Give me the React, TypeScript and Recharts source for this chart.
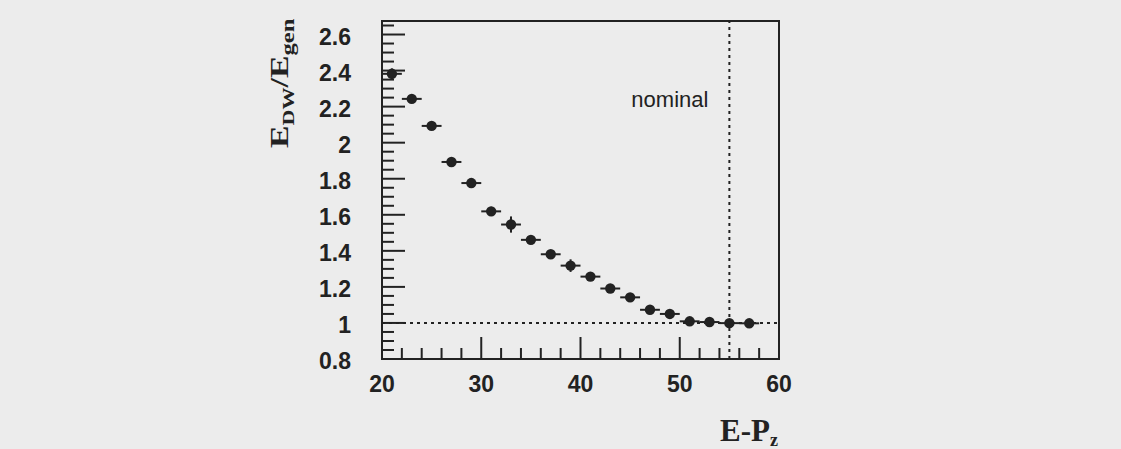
import React from 'react';
import {
  ScatterChart, Scatter, XAxis, YAxis, ErrorBar, ReferenceLine, ReferenceArea,
} from 'recharts';

const INK = '#222222';
const BG = '#ececec';

// E-Pz bin centres and measured E_DW/E_gen
const epz = [21, 23, 25, 27, 29, 31, 33, 35, 37, 39, 41, 43, 45, 47, 49, 51, 53, 55, 57];
const ratio = [2.382, 2.243, 2.093, 1.893, 1.776, 1.619, 1.546, 1.461, 1.381, 1.318, 1.257, 1.191, 1.142, 1.073, 1.05, 1.009, 1.005, 0.999, 0.998];
const ratioErr = [0.03, 0.02, 0.02, 0.02, 0.02, 0.025, 0.045, 0.02, 0.02, 0.035, 0.02, 0.02, 0.02, 0.02, 0.02, 0.01, 0.01, 0.01, 0.01];
const binHalf = 1;

const xTicks = [20, 22, 24, 26, 28, 30, 32, 34, 36, 38, 40, 42, 44, 46, 48, 50, 52, 54, 56, 58, 60];
const xLabels = [20, 30, 40, 50, 60];
const yTicks = [
  0.8, 0.85, 0.9, 0.95, 1.0, 1.05, 1.1, 1.15, 1.2, 1.25, 1.3, 1.35, 1.4, 1.45, 1.5, 1.55, 1.6, 1.65,
  1.7, 1.75, 1.8, 1.85, 1.9, 1.95, 2.0, 2.05, 2.1, 2.15, 2.2, 2.25, 2.3, 2.35, 2.4, 2.45, 2.5, 2.55,
  2.6, 2.65,
];
const yLabels = [0.8, 1, 1.2, 1.4, 1.6, 1.8, 2, 2.2, 2.4, 2.6];

const nominalCut = 55;
const unity = 1;

const data = epz.map((x, i) => ({ x, y: ratio[i], ex: binHalf, ey: ratioErr[i] }));

const tickFont = { fontFamily: '"Liberation Sans", Arial, sans-serif', fontSize: 23, fontWeight: 700, fill: INK };

function YTick({ x, y, payload }: any) {
  const v = payload.value;
  const major = yLabels.some(l => Math.abs(l - v) < 1e-6);
  return (
    <g>
      <line x1={x} x2={x + (major ? 23 : 12)} y1={y} y2={y} stroke={INK} strokeWidth={2} />
      {major && (
        <text x={x - 31} y={y + 2} textAnchor="end" dominantBaseline="central" style={tickFont}>
          {String(v)}
        </text>
      )}
    </g>
  );
}

function XTick({ x, y, payload }: any) {
  const v = payload.value;
  const major = xLabels.includes(v);
  const inner = v > 20 && v < 60;
  return (
    <g>
      {inner && <line x1={x} x2={x} y1={y} y2={y - (major ? 22 : 11)} stroke={INK} strokeWidth={2} />}
      {major && (
        <text x={x} y={y + 25} textAnchor="middle" dominantBaseline="central" style={tickFont}>
          {String(v)}
        </text>
      )}
    </g>
  );
}

function YTitle({ viewBox }: any) {
  const x = viewBox.x + 6;
  const y = viewBox.y + 127;
  return (
    <text
      transform={`translate(${x},${y}) rotate(-90) scale(1.3,1)`}
      style={{ fontFamily: '"Liberation Serif", "Times New Roman", serif', fontWeight: 700, fill: INK }}
    >
      <tspan fontSize={26}>E</tspan>
      <tspan fontSize={17} dy={6}>DW</tspan>
      <tspan fontSize={26} dy={-6}>/E</tspan>
      <tspan fontSize={19} dy={6}>gen</tspan>
    </text>
  );
}

function XTitle({ viewBox }: any) {
  const x = viewBox.x + viewBox.width - 59;
  const y = viewBox.y + 82;
  return (
    <text x={x} y={y} style={{ fontFamily: '"Liberation Serif", "Times New Roman", serif', fontWeight: 700, fill: INK }}>
      <tspan fontSize={31}>E-P</tspan>
      <tspan fontSize={18} dy={5}>z</tspan>
    </text>
  );
}

function NominalLabel({ viewBox }: any) {
  return (
    <text
      x={viewBox.x - 21}
      y={viewBox.y + 86}
      textAnchor="end"
      style={{ fontFamily: '"Liberation Sans", Arial, sans-serif', fontSize: 22, fill: INK }}
    >
      nominal
    </text>
  );
}

export default function App() {
  return (
    <div style={{ position: 'absolute', left: 0, top: 0, width: 1121, height: 449, background: BG }}>
      <ScatterChart width={1121} height={449} margin={{ top: 21, right: 342, bottom: 30, left: 282 }}>
        <XAxis
          type="number"
          dataKey="x"
          domain={[20, 60]}
          ticks={xTicks}
          interval={0}
          allowDataOverflow
          axisLine={false}
          tickLine={false}
          tickSize={0}
          tickMargin={0}
          height={60}
          tick={<XTick />}
          label={<XTitle />}
        />
        <YAxis
          type="number"
          dataKey="y"
          domain={[0.8, 2.675]}
          ticks={yTicks}
          interval={0}
          allowDataOverflow
          axisLine={false}
          tickLine={false}
          tickSize={0}
          tickMargin={0}
          width={100}
          tick={<YTick />}
          label={<YTitle />}
        />
        <ReferenceLine y={unity} stroke={INK} strokeWidth={2} strokeDasharray="3 4" />
        <ReferenceLine x={nominalCut} stroke={INK} strokeWidth={2} strokeDasharray="3 4" label={<NominalLabel />} />
        <ReferenceArea x1={20} x2={60} y1={0.8} y2={2.675} fill="none" stroke={INK} strokeWidth={2} ifOverflow="visible" />
        <Scatter
          data={data}
          isAnimationActive={false}
          shape={(p: any) => <circle cx={p.cx} cy={p.cy} r={5.2} fill={INK} />}
        >
          <ErrorBar dataKey="ex" direction="x" width={0} stroke={INK} strokeWidth={2} />
          <ErrorBar dataKey="ey" direction="y" width={0} stroke={INK} strokeWidth={2} />
        </Scatter>
      </ScatterChart>
    </div>
  );
}
